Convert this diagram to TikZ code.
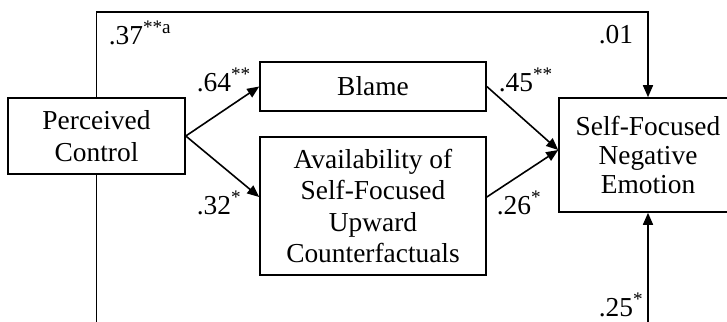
\documentclass[tikz,border=0pt]{standalone}
\usepackage{fontspec}
\setmainfont{Liberation Serif}
\usetikzlibrary{arrows.meta}

\begin{document}
\begin{tikzpicture}[
x=0.5pt, y=-0.5pt,
>={Triangle[length=6pt,width=5pt]},
line width=0.8pt,
every node/.style={font=\fontsize{13.7}{15.8}\selectfont},
box/.style={draw, align=center, inner sep=0pt},
lbl/.style={inner sep=0pt, anchor=west},
]
\clip (0,0) rectangle (727,321);
% boxes
\node[box, minimum width=88.5pt, minimum height=38pt] (PC) at (96.5,136) {Perceived\\Control};
\node[box, minimum width=113pt, minimum height=24.5pt] (Blame) at (373,86.5) {Blame};
\node[box, minimum width=113pt, minimum height=69pt] (Avail) at (373,206) {Availability of\\Self-Focused\\Upward\\Counterfactuals};
\node[box, minimum width=89pt, minimum height=57pt, font=\fontsize{13.7}{14.3}\selectfont] (SFNE) at (648,155) {Self-Focused\\Negative\\Emotion};
% corners and free ends
\coordinate (TR) at (648,12);
\coordinate (BL) at (96.5,330);
\coordinate (BR) at (648,330);
% arrows
\draw[->] (PC.east) -- (Blame.west);
\draw[->] (PC.east) -- ([yshift=4.5pt]Avail.west);
\draw[->] (Blame.east) -- ([yshift=2.5pt]SFNE.west);
\draw[->] ([yshift=4.5pt]Avail.east) -- ([yshift=2.5pt]SFNE.west);
\draw[->] (PC.north) |- (TR) -- (SFNE.north);
\draw (PC.south) -- (BL);
\draw[->] (BR) -- (SFNE.south);
% coefficients
\node[lbl] (c37) at (108,33) {.37\textsuperscript{**a}};
\node[lbl] (c64) at (196,80) {.64\textsuperscript{**}};
\node[lbl] (c45) at (498,80) {.45\textsuperscript{**}};
\node[lbl] (c01) at (598,35) {.01};
\node[lbl] (c32) at (196,203) {.32\textsuperscript{*}};
\node[lbl] (c26) at (496,203) {.26\textsuperscript{*}};
\node[lbl] (c25) at (598,305) {.25\textsuperscript{*}};
\end{tikzpicture}
\end{document}
